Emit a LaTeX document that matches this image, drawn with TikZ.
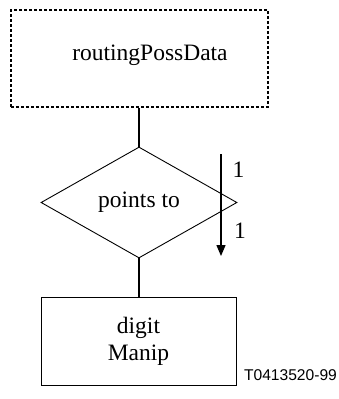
\documentclass[tikz,border=0pt]{standalone}
\usepackage{fontspec}
\setmainfont{Liberation Serif}
\setsansfont{Liberation Sans}
\usetikzlibrary{shapes.geometric,arrows.meta}

\begin{document}
\begin{tikzpicture}[x=1pt,y=-1pt]
   \tikzstyle{every node}=[font=\fontsize{23.5}{27}\selectfont, inner sep=0pt]
   \tikzstyle{entity}=[draw, line width=0.9pt, minimum width=195pt, minimum height=88pt, align=center]
   \tikzstyle{relation}=[draw, diamond, line width=0.9pt, minimum width=196pt, minimum height=111pt]
   \tikzstyle{link}=[line width=1.4pt]

\useasboundingbox (0,0) rectangle (339,399);

\node[draw, line width=1.5pt, dash pattern=on 3pt off 2pt, minimum width=257pt, minimum height=97pt,
      label={[xshift=10.5pt, yshift=3pt]center:routingPossData}] (data) at (139.5,58.5) {};
\node[relation] (points) at (139,202.5) {points to};
\node[entity] (manip) at (138.5,341) {digit\\Manip};

\draw[link] (data.south -| points.north) -- (points.north);
\draw[link] (points.south) -- (points.south |- manip.north);

\coordinate (from) at (221,154);
\coordinate (to) at (221,256);
\draw[link, -{Triangle[width=9pt,length=11pt]}] (from) -- (to);
\node (card1) at (238.5,170) {1};
\node (card2) at (240,231) {1};

\node[font=\sffamily\fontsize{15.6}{18}\selectfont] (fig) at (290.5,375.5) {T0413520-99};

\end{tikzpicture}
\end{document}
